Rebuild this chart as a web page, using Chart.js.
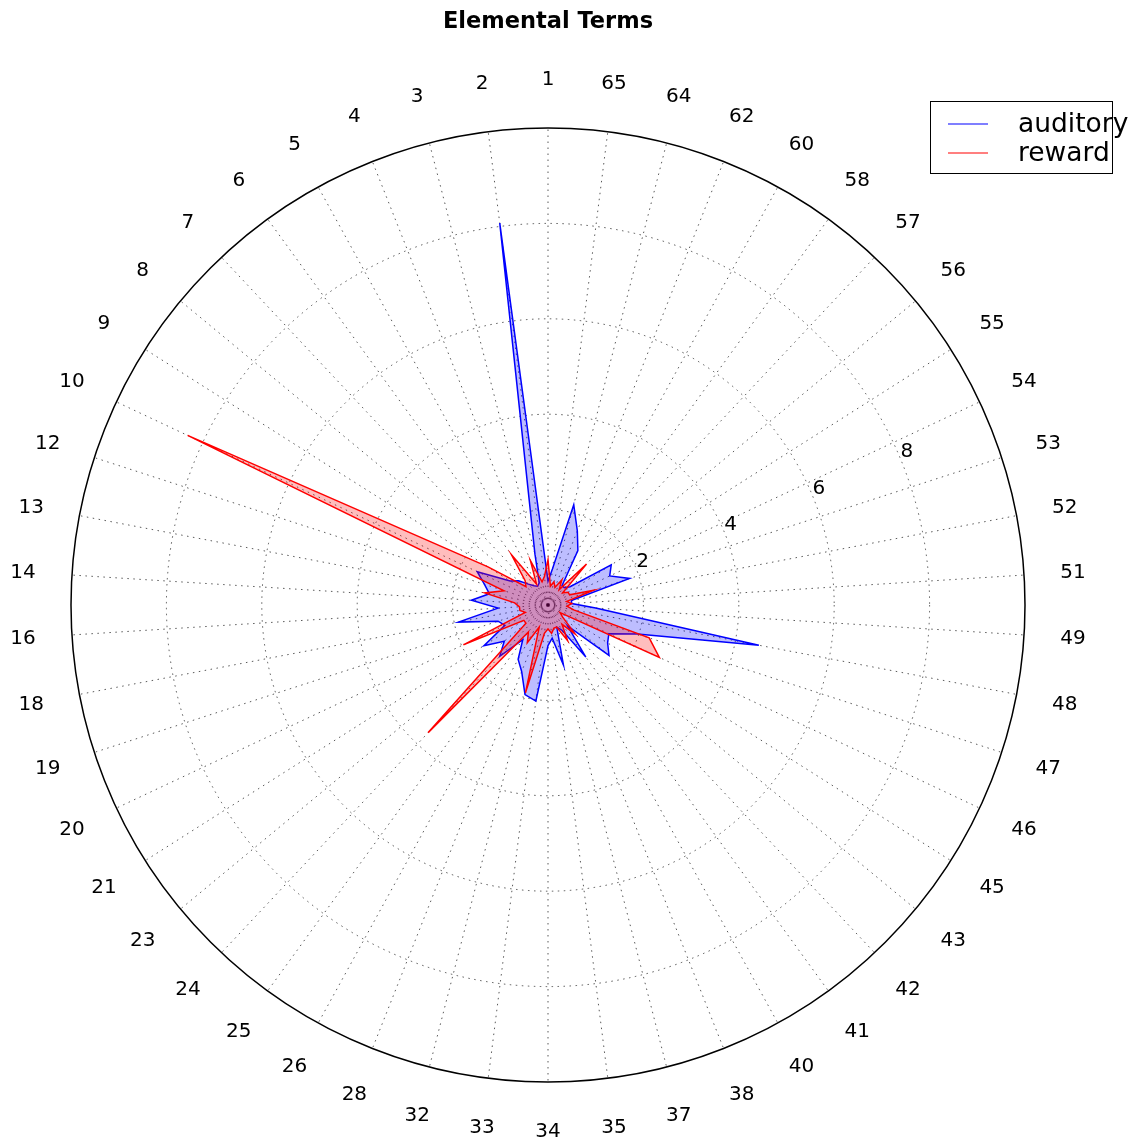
<!DOCTYPE html>
<html>
<head>
<meta charset="utf-8">
<title>Elemental Terms</title>
<script src="https://cdn.jsdelivr.net/npm/chart.js"></script>
<style>
  body { margin: 0; background: #fff; }
  canvas { display: block; }
</style>
</head>
<body>
<canvas id="chart" width="1145" height="1146"></canvas>
<script>
// labels in drawing order (clockwise from the top)
const labels = ['1','65','64','62','60','58','57','56','55','54','53','52','51','49','48','47','46','45','43','42',
  '41','40','38','37','35','34','33','32','28','26','25','24','23','21','20','19','18','16','14','13',
  '12','10','9','8','7','6','5','4','3','2']

const auditory = [0.5, 0.77, 2.17, 1.67, 1.3, 0.5, 0.5, 0.6, 1.57, 1.43,
  1.8, 0.5, 0.5, 1.0, 4.5, 1.97, 1.41, 1.48, 1.66, 0.6,
  1.35, 0.6, 0.5, 1.3, 0.7, 0.85, 2.03, 1.94, 1.5, 1.3,
  0.9, 1.48, 1.19, 1.59, 1.0, 1.1, 1.91, 1.05, 1.61, 1.25,
  1.4, 1.64, 0.94, 0.8, 0.6, 0.5, 0.45, 0.5, 1.1, 8.07]

const reward = [0.95, 0.4, 0.5, 0.4, 0.6, 0.4, 1.18, 0.4, 0.5, 0.5,
  1.0, 0.4, 0.5, 0.4, 0.55, 2.23, 2.58, 0.3, 0.4, 0.83,
  0.5, 0.85, 0.5, 0.5, 0.6, 0.5, 0.6, 1.9, 0.5, 0.9,
  0.7, 3.67, 0.6, 0.6, 1.96, 0.5, 0.6, 0.6, 0.7, 1.35,
  0.97, 8.35, 1.49, 0.6, 0.7, 1.3, 0.5, 1.0, 0.5, 0.6]

const rTicks = [2, 4, 6, 8]
const rRings = [0, 0.18, 2, 4, 6, 8, 10]
const rMax = 10

const dotted = [1.5, 4.5]
const gridGrey = 'rgba(0,0,0,0.65)'

const extras = {
  id: 'extras',
  afterDraw(chart) {
    const ctx = chart.ctx
    const r = chart.scales.r
    ctx.save()
    ctx.fillStyle = '#000'
    ctx.font = '20px "DejaVu Sans"'

    // angle labels, centred outside the outer circle
    ctx.textAlign = 'center'
    ctx.textBaseline = 'middle'
    for (let i = 0; i < labels.length; i++) {
      const p = r.getPointPosition(i, r.drawingArea + 49)
      ctx.fillText(labels[i], p.x, p.y + 1)
    }

    // radial tick labels along 22.5 degrees
    ctx.textAlign = 'left'
    ctx.textBaseline = 'bottom'
    const a = 22.5 * Math.PI / 180
    rTicks.forEach(v => {
      const d = r.getDistanceFromCenterForValue(v)
      ctx.fillText(String(v), r.xCenter + d * Math.cos(a), r.yCenter - d * Math.sin(a) + 3)
    })

    // legend box
    ctx.fillStyle = '#fff'
    ctx.fillRect(930, 101, 182, 72)
    ctx.strokeStyle = '#000'
    ctx.lineWidth = 1
    ctx.strokeRect(930.5, 101.5, 182, 72)
    ctx.font = '26.5px "DejaVu Sans"'
    ctx.textBaseline = 'middle'
    chart.data.datasets.forEach((ds, k) => {
      const y = 124 + k * 29
      ctx.strokeStyle = ds.borderColor
      ctx.lineWidth = 1.2
      ctx.beginPath()
      ctx.moveTo(948, y)
      ctx.lineTo(988, y)
      ctx.stroke()
      ctx.fillStyle = '#000'
      ctx.fillText(ds.label, 1018, y + 1)
    })
    ctx.restore()
  }
}

new Chart(document.getElementById('chart'), {
  type: 'radar',
  data: {
    labels: labels,
    datasets: [{
      label: 'auditory',
      data: auditory,
      borderColor: '#0000ff',
      backgroundColor: 'rgba(0,0,255,0.26)',
      borderWidth: 1.5,
      pointRadius: 0,
      fill: 'origin',
      order: 2
    }, {
      label: 'reward',
      data: reward,
      borderColor: '#ff0000',
      backgroundColor: 'rgba(255,0,0,0.26)',
      borderWidth: 1.5,
      pointRadius: 0,
      fill: 'origin',
      order: 1
    }]
  },
  options: {
    responsive: false,
    animation: false,
    layout: { padding: { left: 70, right: 119, top: 0, bottom: 63 } },
    elements: { line: { tension: 0 } },
    scales: {
      r: {
        min: 0,
        max: rMax,
        afterBuildTicks: (scale) => {
          scale.ticks = rRings.map(v => ({ value: v }))
        },
        ticks: { display: false },
        pointLabels: { display: false },
        grid: {
          circular: true,
          color: (c) => c.tick && c.tick.value === rMax ? '#000' : gridGrey,
          lineWidth: (c) => c.tick && c.tick.value === rMax ? 1.5 : 1
        },
        border: {
          dash: (c) => c.tick && c.tick.value === rMax ? [] : dotted
        },
        angleLines: {
          color: gridGrey,
          lineWidth: 1,
          borderDash: dotted
        }
      }
    },
    plugins: {
      legend: { display: false },
      tooltip: { enabled: false },
      title: {
        display: true,
        text: 'Elemental Terms',
        color: '#000',
        font: { family: 'DejaVu Sans', size: 22.5, weight: 'bold' },
        padding: { top: 9, bottom: 91.6 }
      }
    }
  },
  plugins: [extras]
})
</script>
</body>
</html>
